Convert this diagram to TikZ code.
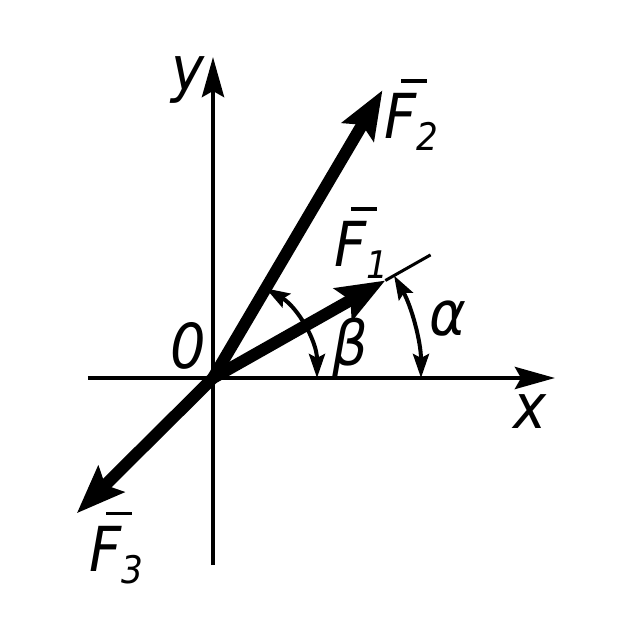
\documentclass[tikz,border=0pt]{standalone}
\usepackage{fontspec}
\setmainfont{DejaVu Sans Condensed}
\usetikzlibrary{arrows.meta}
\newcommand\vlab[2]{{\itshape\rlap{\kern0.28em\rule[0.9em]{0.42em}{1.6pt}}F\raisebox{-6pt}{\fontsize{19}{20}\selectfont #2}}}
\begin{document}
\begin{tikzpicture}[x=0.5pt,y=0.5pt,
  axis/.style={line width=2.2pt,-{Stealth[length=20pt,width=11pt,inset=3pt]}},
  force/.style={line width=6pt,-{Stealth[length=24pt,width=18pt,inset=4pt]}},
  angarc/.style={line width=2pt,{Stealth[length=12pt,width=8pt,inset=2pt]}-{Stealth[length=12pt,width=8pt,inset=2pt]}},
  thin/.style={line width=1.5pt},
  lab/.style={inner sep=0pt,font=\fontsize{31}{36}\selectfont\itshape}]
\useasboundingbox (-213,-262) rectangle (427,378);
\coordinate (O) at (0,0);
\coordinate (xs) at (-125,0);
\coordinate (xe) at (342,0);
\coordinate (ys) at (0,-187);
\coordinate (ye) at (0,321);
\coordinate (F1) at (29.5:198);
\coordinate (F1e) at (29.5:250);
\coordinate (F2) at (59.5:334);
\coordinate (F3) at (224.8:192);
\coordinate (a0) at (0:208);
\coordinate (b0) at (0:104);
% axes
\draw[axis] (xs) -- (xe);
\draw[axis] (ys) -- (ye);
% forces
\draw[thin] (F1) -- (F1e);
\draw[force] (O) -- (F1);
\draw[force] (O) -- (F2);
\draw[force] (O) -- (F3);
% angle arcs
\draw[angarc] (a0) arc[start angle=0,end angle=29.5,radius=208];
\draw[angarc] (b0) arc[start angle=0,end angle=59.5,radius=104];
% labels
\node[lab] (ly) at (-25,298) {y};
\node[lab] (lx) at (317,-34) {x};
\node[lab] (lO) at (-25,32) {0};
\node[lab] (lF1) at (148,135) {\vlab{F}{1}};
\node[lab] (lF2) at (198,263) {\vlab{F}{2}};
\node[lab] (lF3) at (-97,-170) {\vlab{F}{3}};
\node[lab] (la) at (235,60) {α};
\node[lab] (lb) at (137,30) {β};
\end{tikzpicture}
\end{document}
